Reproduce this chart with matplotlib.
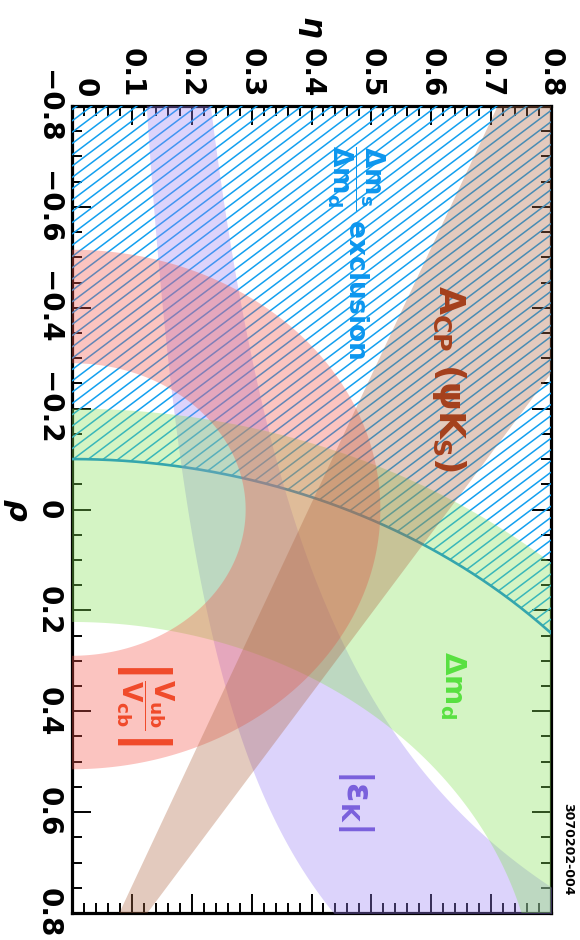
import numpy as np
import matplotlib.pyplot as plt
import matplotlib.colors as mcolors
from matplotlib.patches import Polygon
from matplotlib.collections import LineCollection
from matplotlib.ticker import MultipleLocator, FuncFormatter

plt.rcParams['font.family'] = 'DejaVu Sans'
plt.rcParams['font.weight'] = 'bold'
plt.rcParams['mathtext.fontset'] = 'dejavusans'
plt.rcParams['mathtext.default'] = 'bf'

# constraints in the (rho, eta) plane
dmd_radii = [0.777, 1.20]      # Delta m_d annulus around (1, 0)
vub_radii = [0.29, 0.515]      # |Vub/Vcb| annulus around (0, 0)
dms_radius = 1.10              # Delta m_s / Delta m_d exclusion circle around (1, 0)
epsk_lo = [1.434, 0.277]       # |eps_K| edges: eta * (a - rho) = k
epsk_hi = [1.377, 0.503]
tan_beta = [0.395, 0.630]      # A_CP(psi K_S) wedge slopes from (1, 0)

rho_lim = [-0.8, 0.8]
eta_lim = [0.0, 0.8]

# light tints of each band, composited with ALPHA
ALPHA = 0.35
col_green = '#d4f5c4'
col_pink = '#fcc4c0'
col_purple = '#dcd3fc'
col_brown = '#e3cabe'
col_hatch = '#12a0f0'


def band_color(light):
    rgb = np.array(mcolors.to_rgb(light))
    return tuple(np.clip(1 - (1 - rgb) / ALPHA, 0, 1))


def annulus(cx, r_in, r_out):
    th = np.linspace(0, np.pi, 500)
    rho = np.concatenate([cx + r_out * np.cos(th), cx + r_in * np.cos(th[::-1])])
    eta = np.concatenate([r_out * np.sin(th), r_in * np.sin(th[::-1])])
    return np.column_stack([eta, rho])


W, H = 580, 940
fig = plt.figure(figsize=(W / 100, H / 100), dpi=100)
ax_box = [72 / W, 1 - 913 / H, (551 - 72) / W, (913 - 106) / H]
ax = fig.add_axes(ax_box)
ax.set_xlim(*eta_lim)
ax.set_ylim(rho_lim[1], rho_lim[0])
ax.set_axisbelow(True)

# exclusion region: rho < 1 - sqrt(R^2 - eta^2)
eta_g = np.linspace(eta_lim[0], eta_lim[1], 300)
rho_b = 1 - np.sqrt(dms_radius ** 2 - eta_g ** 2)
excl = np.column_stack([np.r_[eta_g, eta_lim[1], eta_lim[0]],
                        np.r_[rho_b, rho_lim[0], rho_lim[0]]])
excl_patch = Polygon(excl, closed=True, fill=False, edgecolor='none')
ax.add_patch(excl_patch)

# diagonal hatch lines, laid out in pixel space
ppe = ax_box[2] * W / (eta_lim[1] - eta_lim[0])
ppr = ax_box[3] * H / (rho_lim[1] - rho_lim[0])
slope = np.tan(np.radians(37))
step = 15.0
wpx, hpx = ax_box[2] * W, ax_box[3] * H
segs = []
for c in np.arange(-slope * wpx, hpx + step * slope, step * slope):
    e = np.array(eta_lim)
    r = rho_lim[1] - (slope * e * ppe + c) / ppr
    segs.append(np.column_stack([e, r]))
lc = LineCollection(segs, colors=col_hatch, linewidths=1.1, zorder=0.7)
ax.add_collection(lc)
lc.set_clip_path(excl_patch)
lc.set_clip_box(ax.bbox)
ax.plot(eta_g, rho_b, color='#0b86dc', lw=1.9, zorder=0.8)

# |eps_K| hyperbolic band
rr = np.linspace(-0.85, 0.85, 400)
ax.fill_betweenx(rr, epsk_lo[1] / (epsk_lo[0] - rr), epsk_hi[1] / (epsk_hi[0] - rr),
                 color=band_color(col_purple), alpha=ALPHA, lw=0, zorder=1)

# Delta m_d annulus
ax.add_patch(Polygon(annulus(1.0, *dmd_radii), closed=True, lw=0,
                     facecolor=band_color(col_green), alpha=ALPHA, zorder=1.1))

# |Vub/Vcb| annulus
ax.add_patch(Polygon(annulus(0.0, *vub_radii), closed=True, lw=0,
                     facecolor=band_color(col_pink), alpha=ALPHA, zorder=1.2))

# sin(2 beta) wedge
rw = np.linspace(-0.85, 1.0, 200)
ax.fill_betweenx(rw, tan_beta[0] * (1 - rw), tan_beta[1] * (1 - rw),
                 color=band_color(col_brown), alpha=ALPHA, lw=0, zorder=1.3)

# axes styling
for sp in ax.spines.values():
    sp.set_linewidth(2.3)
    sp.set_zorder(0.5)
ax.xaxis.set_major_locator(MultipleLocator(0.1))
ax.xaxis.set_minor_locator(MultipleLocator(0.02))
ax.yaxis.set_major_locator(MultipleLocator(0.2))
ax.yaxis.set_minor_locator(MultipleLocator(0.05))


def fmt(v, pos):
    if abs(v) < 1e-9:
        return '0'
    return f'{v:.1f}'.replace('-', '\u2212')


def fmt_eta(v, pos):
    # the zero label is placed separately, nudged off the corner
    return '' if abs(v) < 1e-9 else fmt(v, pos)


ax.xaxis.set_major_formatter(FuncFormatter(fmt_eta))
ax.yaxis.set_major_formatter(FuncFormatter(fmt))
ax.tick_params(which='both', direction='in', top=True, bottom=True, left=True, right=True,
               labeltop=True, labelbottom=False, width=1.4, labelsize=20)
ax.tick_params(which='major', length=14)
ax.tick_params(which='minor', length=7)
ax.tick_params(axis='x', pad=6)
ax.tick_params(axis='y', pad=7)
for lab in ax.get_xticklabels():
    lab.set_rotation(-90)
    lab.set_va('bottom')
    lab.set_ha('center')
for lab in ax.get_yticklabels():
    lab.set_rotation(-90)
    lab.set_va('center')
    lab.set_ha('right')
ax.annotate('0', xy=(0, 1), xycoords='axes fraction', xytext=(9, 6),
            textcoords='offset points', rotation=-90, fontsize=20,
            ha='center', va='bottom')

fig.text(0.030, 0.457, 'ρ', rotation=-90, fontsize=22, fontstyle='italic',
         ha='center', va='center')
fig.text(0.536, 0.970, 'η', rotation=-90, fontsize=22, fontstyle='italic',
         ha='center', va='center')

# band labels
ax.text(0.630, -0.26, r'$A_{CP}\ (\psi K_S)$', rotation=-90, color='#a5401c',
        fontsize=26, ha='center', va='center', zorder=5)
ax.text(0.474, -0.51, r'$\dfrac{\Delta m_s}{\Delta m_d}$ exclusion', rotation=-90,
        color='#0c96ee', fontsize=19, ha='center', va='center', zorder=5)
ax.text(0.636, 0.348, r'$\Delta m_d$', rotation=-90, color='#58e040',
        fontsize=21, ha='center', va='center', zorder=5)
ax.text(0.122, 0.382, r'$\left|\dfrac{V_{ub}}{V_{cb}}\right|$', rotation=-90,
        color='#f04a2a', fontsize=19, ha='center', va='center', zorder=5)
ax.text(0.474, 0.576, r'$|\epsilon_K|$', rotation=-90, color='#7a60dc',
        fontsize=25, ha='center', va='center', zorder=5)

fig.text(0.979, 0.097, '3070202-004', rotation=-90, fontsize=9, ha='center', va='center')

fig.savefig('out.png', dpi=100)
